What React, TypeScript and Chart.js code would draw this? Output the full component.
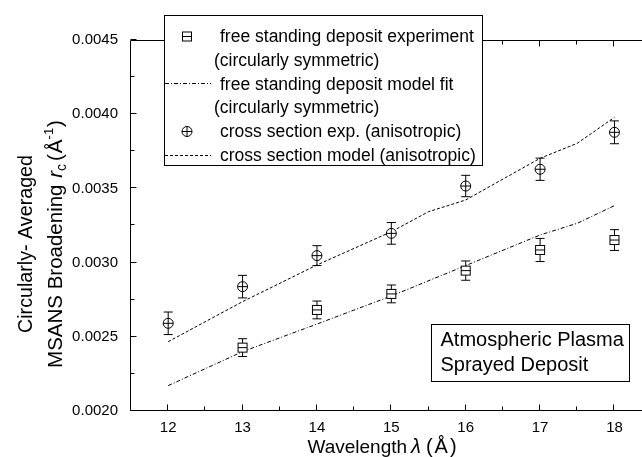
import React, { useEffect, useRef } from "react";
import { Chart, registerables } from "chart.js";
Chart.register(...registerables);

const FONT = '"Liberation Sans", Arial, Helvetica, sans-serif';

// tick values
const xTicks = [12, 13, 14, 15, 16, 17, 18];
const yTicks = [0.002, 0.0025, 0.003, 0.0035, 0.004, 0.0045];

// free standing deposit experiment (circularly symmetric)
const freeExpX = [13, 14, 15, 16, 17, 18];
const freeExpY = [0.002427, 0.002681, 0.002789, 0.002946, 0.003085, 0.003152];
const freeExpErr = [0.00006, 0.00006, 0.00006, 0.000065, 0.000078, 0.00007];

// cross section experiment (anisotropic)
const crossExpX = [12, 13, 14, 15, 16, 17, 18];
const crossExpY = [0.002591, 0.002838, 0.003047, 0.003197, 0.003516, 0.003629, 0.003878];
const crossExpErr = [0.000076, 0.000076, 0.000067, 0.000073, 0.000072, 0.000075, 0.000077];

// free standing deposit model fit
const freeModelX = [12, 13, 14, 15, 16, 17, 17.5, 18];
const freeModelY = [0.002171, 0.0024, 0.002586, 0.002775, 0.00298, 0.003186, 0.003265, 0.003384];

// cross section model
const crossModelX = [12, 13, 14, 15, 15.5, 16, 17, 17.5, 18];
const crossModelY = [0.002467, 0.002737, 0.002984, 0.003208, 0.003343, 0.003422, 0.003703, 0.003804, 0.003979];

const legendRows = [
  "free standing deposit experiment",
  "(circularly symmetric)",
  "free standing deposit model fit",
  "(circularly symmetric)",
  "cross section exp. (anisotropic)",
  "cross section model (anisotropic)",
];
const noteLines = ["Atmospheric Plasma", "Sprayed Deposit"];
const yTitleLine1 = "Circularly- Averaged";

const DASH_DOT = [4, 2, 1, 2];
const DASHED = [3, 2];

const toPts = (xs: number[], ys: number[]) => xs.map((x, i) => ({ x, y: ys[i] }));

function drawSquare(ctx: CanvasRenderingContext2D, x: number, y: number) {
  const h = 4.5;
  ctx.fillStyle = "#fff";
  ctx.fillRect(x - h, y - h, 2 * h, 2 * h);
  ctx.strokeRect(x - h, y - h, 2 * h, 2 * h);
  ctx.beginPath();
  ctx.moveTo(x - h, y);
  ctx.lineTo(x + h, y);
  ctx.stroke();
}
function drawCircle(ctx: CanvasRenderingContext2D, x: number, y: number) {
  const r = 5;
  ctx.fillStyle = "#fff";
  ctx.beginPath();
  ctx.arc(x, y, r, 0, Math.PI * 2);
  ctx.fill();
  ctx.stroke();
  ctx.beginPath();
  ctx.moveTo(x - r, y);
  ctx.lineTo(x + r, y);
  ctx.moveTo(x, y - r);
  ctx.lineTo(x, y + r);
  ctx.stroke();
}

type Part = { t: string; f: string; dy: number; gap?: number };

function drawParts(ctx: CanvasRenderingContext2D, parts: Part[], cx: number, by: number) {
  let total = 0;
  parts.forEach((p) => {
    ctx.font = p.f;
    total += ctx.measureText(p.t).width + (p.gap || 0);
  });
  let x = cx - total / 2;
  ctx.textAlign = "left";
  parts.forEach((p) => {
    ctx.font = p.f;
    ctx.fillText(p.t, x, by + p.dy);
    x += ctx.measureText(p.t).width + (p.gap || 0);
  });
}

const decor = {
  id: "decor",
  afterDatasetsDraw(chart: any) {
    const { ctx, scales } = chart;
    const xs = scales.x;
    const ys = scales.y;
    ctx.save();
    ctx.strokeStyle = "#000";
    ctx.lineWidth = 1;
    const series = [
      { X: freeExpX, Y: freeExpY, E: freeExpErr, m: drawSquare },
      { X: crossExpX, Y: crossExpY, E: crossExpErr, m: drawCircle },
    ];
    for (const s of series) {
      s.X.forEach((xv, i) => {
        const px = xs.getPixelForValue(xv);
        const py = ys.getPixelForValue(s.Y[i]);
        const top = ys.getPixelForValue(s.Y[i] + s.E[i]);
        const bot = ys.getPixelForValue(s.Y[i] - s.E[i]);
        ctx.beginPath();
        ctx.moveTo(px, top);
        ctx.lineTo(px, bot);
        ctx.moveTo(px - 4.5, top);
        ctx.lineTo(px + 4.5, top);
        ctx.moveTo(px - 4.5, bot);
        ctx.lineTo(px + 4.5, bot);
        ctx.stroke();
        s.m(ctx, px, py);
      });
    }
    ctx.restore();
  },
  afterDraw(chart: any) {
    const { ctx, scales, chartArea } = chart;
    const xs = scales.x;
    const ys = scales.y;
    const L = chartArea.left - 0.5;
    const B = chartArea.bottom - 0.5;
    const T = chartArea.top + 0.5;
    const R = chartArea.right;
    ctx.save();
    ctx.strokeStyle = "#000";
    ctx.fillStyle = "#000";
    ctx.lineWidth = 1;
    // axes lines
    ctx.beginPath();
    ctx.moveTo(L, T);
    ctx.lineTo(R, T);
    ctx.moveTo(L, T);
    ctx.lineTo(L, B);
    ctx.lineTo(R, B);
    ctx.stroke();
    // ticks (inside)
    const xMinor = xTicks.slice(0, -1).map((v, i) => (v + xTicks[i + 1]) / 2);
    const yMinor = yTicks.slice(0, -1).map((v, i) => (v + yTicks[i + 1]) / 2);
    ctx.beginPath();
    const tick = (vals: number[], len: number) => {
      vals.forEach((v) => {
        const p = Math.round(xs.getPixelForValue(v)) - 0.5;
        ctx.moveTo(p, B);
        ctx.lineTo(p, B - len);
        ctx.moveTo(p, T);
        ctx.lineTo(p, T + len);
      });
    };
    tick(xTicks, 6);
    tick(xMinor, 4);
    const ytick = (vals: number[], len: number) => {
      vals.forEach((v) => {
        const p = Math.round(ys.getPixelForValue(v)) - 0.5;
        ctx.moveTo(L, p);
        ctx.lineTo(L + len, p);
      });
    };
    ytick(yTicks, 6);
    ytick(yMinor, 4);
    ctx.stroke();

    // legend box
    ctx.fillStyle = "#fff";
    ctx.fillRect(164.5, 15.5, 318, 150);
    ctx.strokeStyle = "#000";
    ctx.strokeRect(164.5, 15.5, 318, 150);
    ctx.fillStyle = "#000";
    ctx.font = `17.5px ${FONT}`;
    ctx.textAlign = "left";
    ctx.textBaseline = "alphabetic";
    const baselines = [42.3, 66, 89.7, 113.4, 137.1, 160.8];
    const indents = [220, 214, 220, 214, 220, 220];
    legendRows.forEach((t, i) => ctx.fillText(t, indents[i], baselines[i]));
    drawSquare(ctx, 187, 36.5);
    ctx.strokeStyle = "#000";
    drawCircle(ctx, 187, 131.5);
    ctx.strokeStyle = "#000";
    ctx.beginPath();
    ctx.setLineDash(DASH_DOT);
    ctx.moveTo(165, 83.5);
    ctx.lineTo(211, 83.5);
    ctx.stroke();
    ctx.beginPath();
    ctx.setLineDash(DASHED);
    ctx.moveTo(165, 155.5);
    ctx.lineTo(211, 155.5);
    ctx.stroke();
    ctx.setLineDash([]);

    // annotation box
    ctx.fillStyle = "#fff";
    ctx.fillRect(431.5, 324.5, 198, 57);
    ctx.strokeRect(431.5, 324.5, 198, 57);
    ctx.fillStyle = "#000";
    ctx.font = `20px ${FONT}`;
    ctx.fillText(noteLines[0], 440.5, 345.5);
    ctx.fillText(noteLines[1], 440.5, 371);

    // x title
    const f19 = `19px ${FONT}`;
    const f20 = `20px ${FONT}`;
    const f20i = `italic 20px ${FONT}`;
    const f21 = `20.5px ${FONT}`;
    const f21i = `italic 20.5px ${FONT}`;
    drawParts(
      ctx,
      [
        { t: "Wavelength", f: f19, dy: 0, gap: 4 },
        { t: "\u03bb", f: f20i, dy: 0, gap: 5 },
        { t: "(", f: f20, dy: 0, gap: 2 },
        { t: "\u00c5", f: f20, dy: 0, gap: 2 },
        { t: ")", f: f20, dy: 0 },
      ],
      382,
      453
    );

    // y title
    ctx.save();
    ctx.translate(31.5, 244);
    ctx.rotate(-Math.PI / 2);
    ctx.font = `19.7px ${FONT}`;
    ctx.textAlign = "center";
    ctx.fillText(yTitleLine1, 0, 0);
    ctx.restore();

    ctx.save();
    ctx.translate(61.5, 244);
    ctx.rotate(-Math.PI / 2);
    drawParts(
      ctx,
      [
        { t: "MSANS Broadening ", f: f21, dy: 0, gap: 1 },
        { t: "r", f: f21i, dy: 0 },
        { t: "c", f: `14px ${FONT}`, dy: 4, gap: 3 },
        { t: "(", f: f21, dy: 0, gap: 1 },
        { t: "\u00c5", f: f21, dy: 0 },
        { t: "-1", f: `13px ${FONT}`, dy: -9, gap: 1 },
        { t: ")", f: f21, dy: 0 },
      ],
      0,
      0
    );
    ctx.restore();
    ctx.restore();
  },
};

export default function App() {
  const ref = useRef<HTMLCanvasElement>(null);
  useEffect(() => {
    const chart = new Chart(ref.current as HTMLCanvasElement, {
      type: "scatter",
      data: {
        datasets: [
          {
            label: legendRows[0],
            data: toPts(freeExpX, freeExpY),
            pointRadius: 0,
            showLine: false,
          },
          {
            label: legendRows[4],
            data: toPts(crossExpX, crossExpY),
            pointRadius: 0,
            showLine: false,
          },
          {
            label: legendRows[2],
            data: toPts(freeModelX, freeModelY),
            showLine: true,
            pointRadius: 0,
            borderColor: "#000",
            borderWidth: 1,
            borderDash: DASH_DOT,
            tension: 0,
          },
          {
            label: legendRows[5],
            data: toPts(crossModelX, crossModelY),
            showLine: true,
            pointRadius: 0,
            borderColor: "#000",
            borderWidth: 1,
            borderDash: DASHED,
            tension: 0,
          },
        ],
      },
      options: {
        animation: false,
        responsive: true,
        maintainAspectRatio: false,
        devicePixelRatio: 1,
        layout: { padding: { top: 40, right: 0, left: 0, bottom: 0 } },
        plugins: { legend: { display: false }, tooltip: { enabled: false } },
        scales: {
          x: {
            type: "linear",
            min: 11.5,
            max: 18.37,
            afterBuildTicks: (s: any) => {
              s.ticks = xTicks.map((v) => ({ value: v }));
            },
            afterFit: (s: any) => {
              s.height = 46;
            },
            grid: { display: false },
            border: { display: false },
            ticks: {
              color: "#000",
              font: { family: FONT, size: 15 },
              padding: 0,
              maxRotation: 0,
              autoSkip: false,
              callback: (v: any) => String(v),
            },
          },
          y: {
            type: "linear",
            min: 0.002,
            max: 0.0045,
            afterBuildTicks: (s: any) => {
              s.ticks = yTicks.map((v) => ({ value: v }));
            },
            afterFit: (s: any) => {
              s.width = 131;
            },
            grid: { display: false },
            border: { display: false },
            ticks: {
              color: "#000",
              font: { family: FONT, size: 15 },
              padding: 5,
              autoSkip: false,
              callback: (v: any) => Number(v).toFixed(4),
            },
          },
        },
      },
      plugins: [decor],
    } as any);
    return () => chart.destroy();
  }, []);
  return (
    <div style={{ position: "fixed", left: 0, top: 0, width: 642, height: 457, background: "#fff" }}>
      <canvas ref={ref} />
    </div>
  );
}
